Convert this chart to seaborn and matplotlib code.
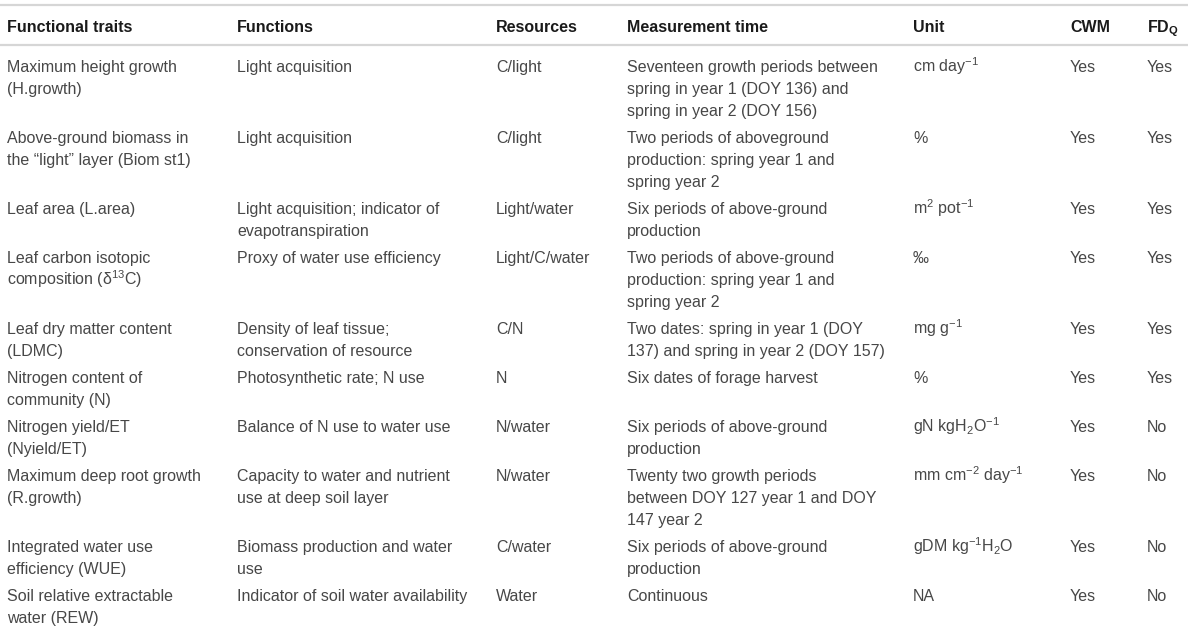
import matplotlib
matplotlib.use("Agg")
import matplotlib.pyplot as plt
import seaborn as sns

headers = ["Functional traits", "Functions", "Resources", "Measurement time",
           "Unit", "CWM", r"FD$_\mathbf{Q}$"]

traits = [
    "Maximum height growth\n(H.growth)",
    "Above-ground biomass in\nthe \u201clight\u201d layer (Biom st1)",
    "Leaf area (L.area)",
    "Leaf carbon isotopic\ncomposition (\u03b4$^{13}$C)",
    "Leaf dry matter content\n(LDMC)",
    "Nitrogen content of\ncommunity (N)",
    "Nitrogen yield/ET\n(Nyield/ET)",
    "Maximum deep root growth\n(R.growth)",
    "Integrated water use\nefficiency (WUE)",
    "Soil relative extractable\nwater (REW)",
]
functions = [
    "Light acquisition",
    "Light acquisition",
    "Light acquisition; indicator of\nevapotranspiration",
    "Proxy of water use efficiency",
    "Density of leaf tissue;\nconservation of resource",
    "Photosynthetic rate; N use",
    "Balance of N use to water use",
    "Capacity to water and nutrient\nuse at deep soil layer",
    "Biomass production and water\nuse",
    "Indicator of soil water availability",
]
resources = ["C/light", "C/light", "Light/water", "Light/C/water", "C/N",
             "N", "N/water", "N/water", "C/water", "Water"]
measurement = [
    "Seventeen growth periods between\nspring in year 1 (DOY 136) and\nspring in year 2 (DOY 156)",
    "Two periods of aboveground\nproduction: spring year 1 and\nspring year 2",
    "Six periods of above-ground\nproduction",
    "Two periods of above-ground\nproduction: spring year 1 and\nspring year 2",
    "Two dates: spring in year 1 (DOY\n137) and spring in year 2 (DOY 157)",
    "Six dates of forage harvest",
    "Six periods of above-ground\nproduction",
    "Twenty two growth periods\nbetween DOY 127 year 1 and DOY\n147 year 2",
    "Six periods of above-ground\nproduction",
    "Continuous",
]
units = [
    "cm day$^{-1}$",
    "%",
    "m$^2$ pot$^{-1}$",
    "\u2030",
    "mg g$^{-1}$",
    "%",
    "gN kgH$_2$O$^{-1}$",
    "mm cm$^{-2}$ day$^{-1}$",
    "gDM kg$^{-1}$H$_2$O",
    "NA",
]
cwm = ["Yes"] * 10
fdq = ["Yes", "Yes", "Yes", "Yes", "Yes", "Yes", "No", "No", "No", "No"]

columns = [traits, functions, resources, measurement, units, cwm, fdq]

# layout (pixels)
col_x = [7, 237, 496, 627, 913, 1070, 1147]
line_h = 22
row_gap = 5
header_y = 26
first_row_y = 66
rule_color = "#d6d6d6"

sns.set_theme(style="white")
plt.rcParams["font.family"] = ["Liberation Sans", "DejaVu Sans"]
plt.rcParams["mathtext.fontset"] = "custom"
plt.rcParams["mathtext.rm"] = "Liberation Sans"
plt.rcParams["mathtext.it"] = "Liberation Sans:italic"
plt.rcParams["mathtext.bf"] = "Liberation Sans:bold"

fig = plt.figure(figsize=(12, 6.44), dpi=100)
ax = fig.add_axes([0, 0, 1, 1])
ax.set_xlim(0, 1200)
ax.set_ylim(644, 0)
ax.axis("off")

fs = 11.5
base_off = 5.8  # center -> baseline

for x, h in zip(col_x, headers):
    ax.text(x, header_y + base_off, h, fontsize=fs, fontweight="bold",
            color="#1a1a1a", va="baseline", ha="left")

y = first_row_y
for r in range(len(traits)):
    nlines = max(len(col[r].split("\n")) for col in columns)
    for x, col in zip(col_x, columns):
        for i, part in enumerate(col[r].split("\n")):
            ax.text(x, y + i * line_h + base_off, part, fontsize=fs,
                    color="#474747", va="baseline", ha="left")
    y += nlines * line_h + row_gap

bottom_y = y - row_gap - line_h + 42
ax.hlines([5, 45, bottom_y], 0, 1188, color=rule_color, lw=1.6)

fig.savefig("out.png", dpi=100)
